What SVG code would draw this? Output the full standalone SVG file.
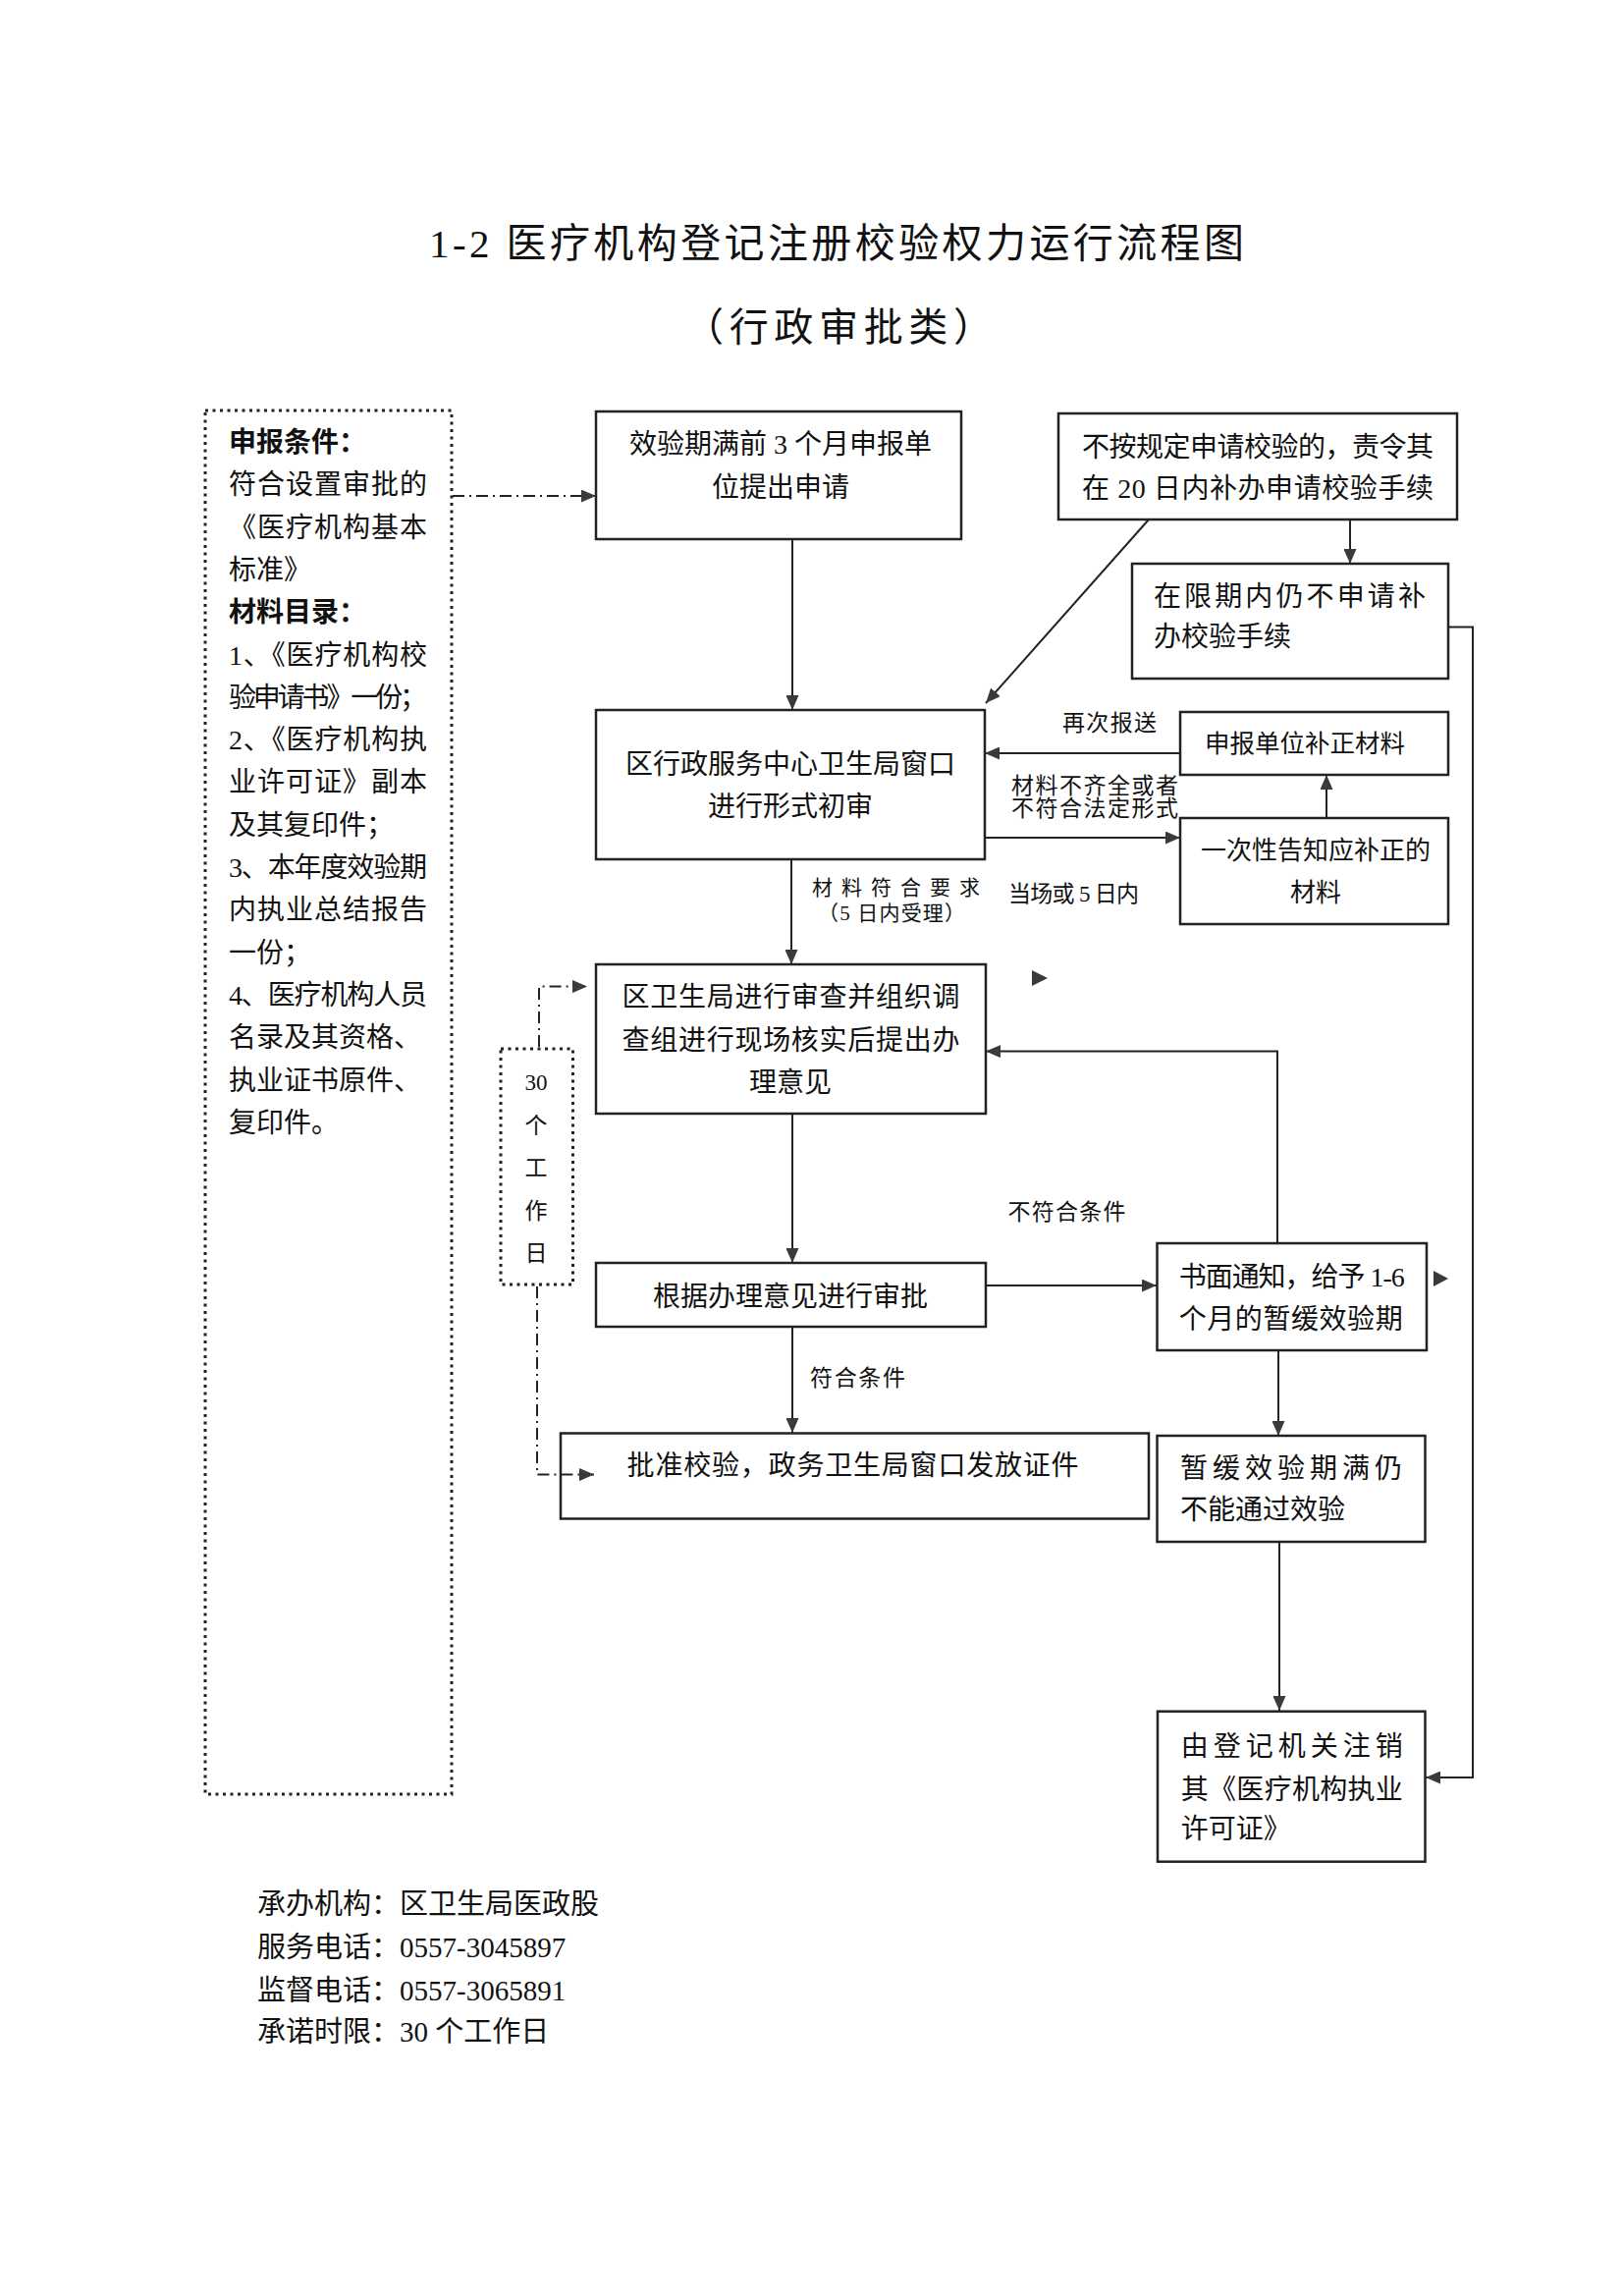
<svg xmlns="http://www.w3.org/2000/svg" width="1653" height="2338" viewBox="0 0 1653 2338">
<style>
text{font-family:"Liberation Serif","Noto Sans CJK SC",serif;fill:#111;}
.t{font-size:28px;}
.f{font-size:29px;}
.m{text-anchor:middle;}
.lb{font-size:23px;}
.sm{font-size:21px;}
.box{fill:#fff;stroke:#222;stroke-width:2.5;}
.dot{fill:none;stroke:#222;stroke-width:3;stroke-dasharray:3 4.5;}
.ln{fill:none;stroke:#222;stroke-width:2;}
.dd{fill:none;stroke:#222;stroke-width:2;stroke-dasharray:12 5 2 5;}
.ah{fill:#3a3a3a;}
</style>
<defs>
<marker id="ah" viewBox="0 0 15 13" refX="15" refY="6.5" markerWidth="15" markerHeight="13" markerUnits="userSpaceOnUse" orient="auto">
<path d="M0,0 L15,6.5 L0,13 Z" fill="#3a3a3a"/>
</marker>
</defs>
<rect width="1653" height="2338" fill="#fff"/>

<g id="title">
<text x="437" y="261.5" style="font-size:41px" textLength="830" lengthAdjust="spacing">1-2 医疗机构登记注册校验权力运行流程图</text>
<text x="697" y="347.4" style="font-size:40px" textLength="314" lengthAdjust="spacing">（行政审批类）</text>
</g>

<g id="conditions">
<rect x="209" y="418" width="251" height="1409" class="dot"/>
<text class="t" x="233" y="460" font-weight="bold">申报条件：</text>
<text class="t" x="233" y="503.3" textLength="202" lengthAdjust="spacing">符合设置审批的</text>
<text class="t" x="233" y="546.6" textLength="202" lengthAdjust="spacing">《医疗机构基本</text>
<text class="t" x="233" y="589.9">标准》</text>
<text class="t" x="233" y="633.2" font-weight="bold">材料目录：</text>
<text class="t" x="233" y="676.5" textLength="202" lengthAdjust="spacing">1、《医疗机构校</text>
<text class="t" x="233" y="719.8" textLength="202" lengthAdjust="spacing">验申请书》一份；</text>
<text class="t" x="233" y="763.1" textLength="202" lengthAdjust="spacing">2、《医疗机构执</text>
<text class="t" x="233" y="806.4" textLength="202" lengthAdjust="spacing">业许可证》副本</text>
<text class="t" x="233" y="849.7">及其复印件；</text>
<text class="t" x="233" y="893" textLength="202" lengthAdjust="spacing">3、本年度效验期</text>
<text class="t" x="233" y="936.3" textLength="202" lengthAdjust="spacing">内执业总结报告</text>
<text class="t" x="233" y="979.6">一份；</text>
<text class="t" x="233" y="1022.9" textLength="202" lengthAdjust="spacing">4、医疗机构人员</text>
<text class="t" x="233" y="1066.2">名录及其资格、</text>
<text class="t" x="233" y="1109.5">执业证书原件、</text>
<text class="t" x="233" y="1152.8">复印件。</text>
</g>

<g id="days30">
<rect x="510" y="1068" width="73.5" height="240" class="dot"/>
<text class="lb m" x="546" y="1110.3">30</text>
<text class="lb m" x="546" y="1154">个</text>
<text class="lb m" x="546" y="1197.3">工</text>
<text class="lb m" x="546" y="1241">作</text>
<text class="lb m" x="546" y="1284.3">日</text>
</g>

<g id="nodeA">
<rect x="607" y="419" width="372" height="130" class="box"/>
<text class="t m" x="795" y="462">效验期满前 3 个月申报单</text>
<text class="t m" x="795" y="506">位提出申请</text>
</g>

<g id="nodeB">
<rect x="1078" y="421" width="406" height="108" class="box"/>
<text class="t" x="1102" y="465" textLength="358" lengthAdjust="spacing">不按规定申请校验的，责令其</text>
<text class="t" x="1102" y="507" textLength="358" lengthAdjust="spacing">在 20 日内补办申请校验手续</text>
</g>

<g id="nodeC">
<rect x="1153" y="574" width="322" height="117" class="box"/>
<text class="t" x="1175" y="617" textLength="277" lengthAdjust="spacing">在限期内仍不申请补</text>
<text class="t" x="1175" y="658">办校验手续</text>
</g>

<g id="nodeD">
<rect x="607" y="723" width="396" height="152" class="box"/>
<text class="t m" x="805" y="788">区行政服务中心卫生局窗口</text>
<text class="t m" x="805" y="831">进行形式初审</text>
</g>

<g id="nodeE">
<rect x="1202" y="725" width="273" height="64" class="box"/>
<text class="m" x="1329" y="766" style="font-size:25.5px">申报单位补正材料</text>
</g>

<g id="nodeF">
<rect x="1202" y="833" width="273" height="108" class="box"/>
<text class="m" x="1340" y="875" style="font-size:26px">一次性告知应补正的</text>
<text class="m" x="1340" y="918" style="font-size:26px">材料</text>
</g>

<g id="nodeG">
<rect x="607" y="982" width="397" height="152" class="box"/>
<text class="t" x="633.5" y="1025" textLength="344" lengthAdjust="spacing">区卫生局进行审查并组织调</text>
<text class="t" x="633.5" y="1068.7" textLength="344" lengthAdjust="spacing">查组进行现场核实后提出办</text>
<text class="t m" x="805" y="1112">理意见</text>
</g>

<g id="nodeH">
<rect x="607" y="1286" width="397" height="65" class="box"/>
<text class="t m" x="805" y="1329.7">根据办理意见进行审批</text>
</g>

<g id="nodeI">
<rect x="1178.5" y="1266" width="274.5" height="109" class="box"/>
<text class="t" x="1200.7" y="1310" textLength="230" lengthAdjust="spacing">书面通知，给予 1-6</text>
<text class="t" x="1200.7" y="1353.4" textLength="228" lengthAdjust="spacing">个月的暂缓效验期</text>
</g>

<g id="nodeJ">
<rect x="571" y="1459.5" width="599" height="87" class="box"/>
<text class="t" x="638.6" y="1501.7" textLength="460" lengthAdjust="spacing">批准校验，政务卫生局窗口发放证件</text>
</g>

<g id="nodeK">
<rect x="1178.5" y="1462" width="273" height="108" class="box"/>
<text class="t" x="1202" y="1505" textLength="226" lengthAdjust="spacing">暂缓效验期满仍</text>
<text class="t" x="1202" y="1547">不能通过效验</text>
</g>

<g id="nodeL">
<rect x="1179" y="1742.7" width="272.5" height="153" class="box"/>
<text class="t" x="1202.8" y="1788" textLength="226" lengthAdjust="spacing">由登记机关注销</text>
<text class="t" x="1202.8" y="1831.7" textLength="226" lengthAdjust="spacing">其《医疗机构执业</text>
<text class="t" x="1202.8" y="1871.7">许可证》</text>
</g>

<g id="connectors">
<path class="dd" d="M461,505 H607" marker-end="url(#ah)"/>
<path class="ln" d="M807,549 V723" marker-end="url(#ah)"/>
<path class="ln" d="M1170,529 L1004,716" marker-end="url(#ah)"/>
<path class="ln" d="M1375,529 V574" marker-end="url(#ah)"/>
<path class="ln" d="M1475,638.5 H1500 V1810 H1452" marker-end="url(#ah)"/>
<path class="ln" d="M1202,767 H1003" marker-end="url(#ah)"/>
<path class="ln" d="M1351,833 V789" marker-end="url(#ah)"/>
<path class="ln" d="M1003,853 H1202" marker-end="url(#ah)"/>
<path class="ln" d="M806,875 V982" marker-end="url(#ah)"/>
<path class="ln" d="M807,1134 V1286" marker-end="url(#ah)"/>
<path class="ln" d="M807,1351 V1459" marker-end="url(#ah)"/>
<path class="ln" d="M1004,1309 H1178" marker-end="url(#ah)"/>
<path class="ln" d="M1301,1266 V1070.6 H1004" marker-end="url(#ah)"/>
<path class="ln" d="M1302,1375 V1462" marker-end="url(#ah)"/>
<path class="ln" d="M1303,1570 V1742" marker-end="url(#ah)"/>
<path class="dd" d="M549,1066 V1004.6 H598" marker-end="url(#ah)"/>
<path class="dd" d="M547,1310 V1501.6 H605" marker-end="url(#ah)"/>
<polygon class="ah" points="1051,988 1067,996 1051,1004"/>
<polygon class="ah" points="1460,1294 1475,1302 1460,1310"/>
<text class="lb" x="1082" y="744" textLength="96" lengthAdjust="spacing">再次报送</text>
<text class="lb" x="1030" y="808" textLength="170" lengthAdjust="spacing">材料不齐全或者</text>
<text class="lb" x="1030" y="831" textLength="170" lengthAdjust="spacing">不符合法定形式</text>
<text class="lb" x="1027" y="918" textLength="133" lengthAdjust="spacing">当场或 5 日内</text>
<text class="sm" x="827" y="910.6" textLength="171" lengthAdjust="spacing">材料符合要求</text>
<text class="sm" x="833" y="936.6" textLength="150" lengthAdjust="spacing">（5 日内受理）</text>
<text class="lb" x="1026.5" y="1242.3" textLength="120" lengthAdjust="spacing">不符合条件</text>
<text class="lb" x="825" y="1411" textLength="97" lengthAdjust="spacing">符合条件</text>
</g>

<g id="footer">
<text class="f" x="262" y="1948.7">承办机构：区卫生局医政股</text>
<text class="f" x="262" y="1993">服务电话：0557-3045897</text>
<text class="f" x="262" y="2036.5">监督电话：0557-3065891</text>
<text class="f" x="262" y="2079">承诺时限：30 个工作日</text>
</g>
</svg>
